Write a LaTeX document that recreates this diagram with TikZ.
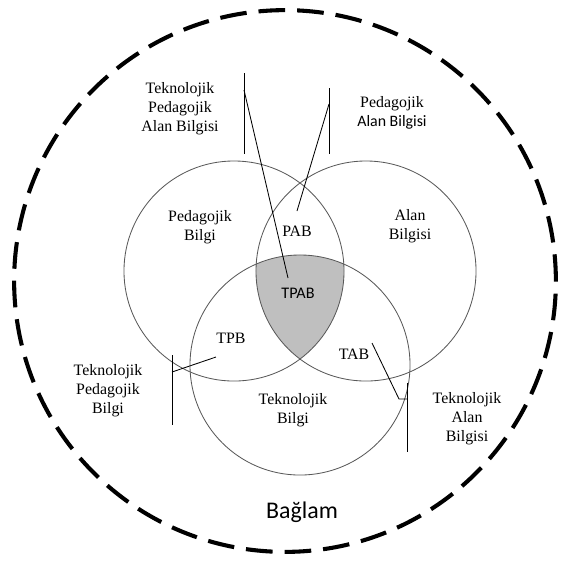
\documentclass[tikz,border=0pt]{standalone}
\usepackage{fontspec}
\setmainfont{Liberation Serif}
\newfontfamily\calfont{Carlito}
\usetikzlibrary{calc}
\usetikzlibrary{arrows,shapes,positioning}
\tikzset{>=stealth}
\tikzset{
  kume/.style={draw=black!65, line width=0.6pt},
  etiket/.style={align=center, inner sep=1pt, font={\fontsize{11.3}{13.6}\selectfont}},
  sansetiket/.style={align=center, inner sep=1pt, font={\calfont\fontsize{11.5}{13.6}\selectfont}},
  baglac/.style={draw=black, line width=0.6pt},
}

\begin{document}
\begin{tikzpicture}[x=0.025cm, y=-0.025cm]
          \useasboundingbox (0, 0) rectangle (563, 562);
          % baglam
          \draw [line width=2.9pt, dash pattern=on 19pt off 8.5pt] (285, 281) circle [radius=6.77cm];
          % ortak bolge
          \begin{scope}
            \clip (234, 271) circle [radius=2.75cm];
            \clip (366, 271) circle [radius=2.75cm];
            \fill [black!25] (300, 365) circle [radius=2.75cm];
          \end{scope}
          \draw [kume] (234, 271) circle [radius=2.75cm];
          \draw [kume] (366, 271) circle [radius=2.75cm];
          \draw [kume] (300, 365) circle [radius=2.75cm];

          \node [etiket] (pb) at (200, 227) {Pedagojik\\Bilgi};
          \node [etiket] (ab) at (410, 226) {Alan\\Bilgisi};
          \node [etiket] (tb) at (293, 410) {Teknolojik\\Bilgi};
          \node [etiket] (pab) at (297, 231) {PAB};
          \node [sansetiket] (tpab) at (298, 293) {TPAB};
          \node [etiket] (tpb) at (231, 338) {TPB};
          \node [etiket] (tab) at (354, 354) {TAB};

          \node [etiket] (tpabk) at (180, 109) {Teknolojik\\Pedagojik\\Alan Bilgisi};
          \node [etiket] (pabk) at (392, 113) {Pedagojik\\{\calfont\fontsize{11.3}{13.6}\selectfont Alan Bilgisi}};
          \node [etiket] (tpbk) at (108, 391) {Teknolojik\\Pedagojik\\Bilgi};
          \node [etiket] (tabk) at (467, 419) {Teknolojik\\Alan\\Bilgisi};
          \node [font={\calfont\fontsize{17}{20}\selectfont}] (baglam) at (302, 512) {Bağlam};

          % baglac cizgileri
          \coordinate (tpabU) at (244, 73);
          \coordinate (tpabA) at (244, 154);
          \coordinate (tpabK) at (244, 90);
          \coordinate (tpabS) at (288, 278);
          \draw [baglac] (tpabU) -- (tpabA);
          \draw [baglac] (tpabK) -- (tpabS);

          \coordinate (pabU) at (329, 88);
          \coordinate (pabA) at (329, 154);
          \coordinate (pabK) at (329, 104);
          \coordinate (pabS) at (297, 211);
          \draw [baglac] (pabU) -- (pabA);
          \draw [baglac] (pabK) -- (pabS);

          \coordinate (tpbU) at (172, 355);
          \coordinate (tpbA) at (172, 425);
          \coordinate (tpbK) at (172, 372);
          \coordinate (tpbS) at (216, 357);
          \draw [baglac] (tpbU) -- (tpbA);
          \draw [baglac] (tpbK) -- (tpbS);

          \coordinate (tabU) at (407, 383);
          \coordinate (tabA) at (407, 452);
          \coordinate (tabK) at (407, 399);
          \coordinate (tabS) at (372, 343);
          \draw [baglac] (tabU) -- (tabA);
          \draw [baglac] (tabK) -- ++(-8, 0) -- (tabS);
        \end{tikzpicture}
\end{document}
